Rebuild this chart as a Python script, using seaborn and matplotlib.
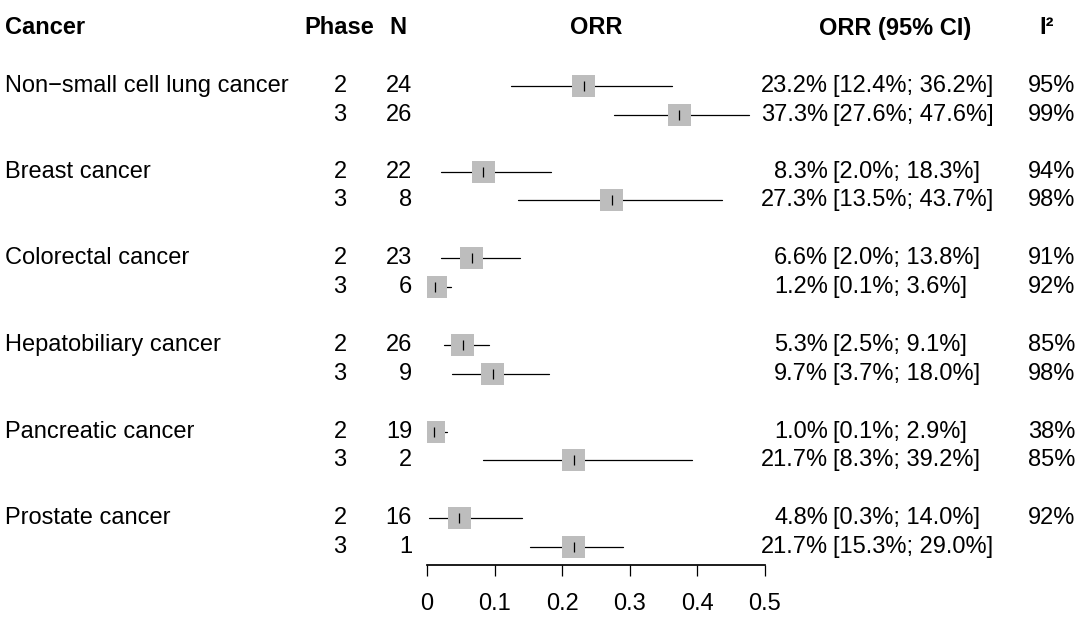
import numpy as np
import pandas as pd
import matplotlib.pyplot as plt
import matplotlib.transforms as mtransforms
import seaborn as sns

cancers = ["Non\u2212small cell lung cancer", "Breast cancer", "Colorectal cancer",
           "Hepatobiliary cancer", "Pancreatic cancer", "Prostate cancer"]
phases = [2, 3] * 6
n_studies = [24, 26, 22, 8, 23, 6, 26, 9, 19, 2, 16, 1]
orr = [0.232, 0.373, 0.083, 0.273, 0.066, 0.012, 0.053, 0.097, 0.010, 0.217, 0.048, 0.217]
lower = [0.124, 0.276, 0.020, 0.135, 0.020, 0.001, 0.025, 0.037, 0.001, 0.083, 0.003, 0.153]
upper = [0.362, 0.476, 0.183, 0.437, 0.138, 0.036, 0.091, 0.180, 0.029, 0.392, 0.140, 0.290]
orr_txt = ["23.2%", "37.3%", "8.3%", "27.3%", "6.6%", "1.2%", "5.3%", "9.7%", "1.0%", "21.7%", "4.8%", "21.7%"]
ci_txt = ["[12.4%; 36.2%]", "[27.6%; 47.6%]", "[2.0%; 18.3%]", "[13.5%; 43.7%]",
          "[2.0%; 13.8%]", "[0.1%; 3.6%]", "[2.5%; 9.1%]", "[3.7%; 18.0%]",
          "[0.1%; 2.9%]", "[8.3%; 39.2%]", "[0.3%; 14.0%]", "[15.3%; 29.0%]"]
i2 = ["95%", "99%", "94%", "98%", "91%", "92%", "85%", "98%", "38%", "85%", "92%", ""]
ticks = [0, 0.1, 0.2, 0.3, 0.4, 0.5]

# pixel rows of each study line (figure is 620 px tall)
row_y = [86, 115, 172, 200, 258, 287, 345, 374, 432, 460, 518, 547]

sns.set_theme(style="white")
plt.rcParams["font.family"] = ["Liberation Sans", "DejaVu Sans"]
FS = 17

fig = plt.figure(figsize=(10.8, 6.2), dpi=100)
ax = fig.add_axes([427 / 1080, 0, (765 - 427) / 1080, 1])
ax.set_xlim(0, 0.5)
ax.set_ylim(620, 0)

df = pd.DataFrame({"orr": orr, "y": row_y})
for lo, hi, y in zip(lower, upper, row_y):
    ax.plot([lo, hi], [y, y], color="black", lw=0.9, zorder=1)
sns.scatterplot(data=df, x="orr", y="y", marker="s", s=270, color="#bdbdbd",
                edgecolor="none", ax=ax, zorder=2, legend=False)
ax.scatter(orr, row_y, marker="|", s=45, color="black", linewidths=0.9, zorder=3)

for side in ["top", "right", "left"]:
    ax.spines[side].set_visible(False)
ax.spines["bottom"].set_position(("data", 565))
ax.spines["bottom"].set_bounds(0, 0.5)
ax.spines["bottom"].set_color("black")
ax.set_xticks(ticks)
ax.set_xticklabels([f"{t:g}" for t in ticks], fontsize=FS, color="black")
ax.tick_params(axis="x", bottom=True, length=8, width=0.9, color="black", pad=12)
ax.set_yticks([])
ax.set_xlabel("")
ax.set_ylabel("")
ax.patch.set_alpha(0)

tr = mtransforms.blended_transform_factory(fig.transFigure, ax.transData)

def t(xpx, y, s, ha="left", bold=False):
    ax.text(xpx / 1080, y, s, transform=tr, ha=ha, va="center", fontsize=FS,
            color="black", fontweight="bold" if bold else "normal", clip_on=False)

hy = 28
t(5, hy, "Cancer", bold=True)
t(339, hy, "Phase", ha="center", bold=True)
t(398, hy, "N", ha="center", bold=True)
t(596, hy, "ORR", ha="center", bold=True)
t(895, hy, "ORR (95% CI)", ha="center", bold=True)
t(1047, hy, "I\u00b2", ha="center", bold=True)

for i, y in enumerate(row_y):
    if i % 2 == 0:
        t(5, y, cancers[i // 2])
    t(340, y, str(phases[i]), ha="center")
    t(412, y, str(n_studies[i]), ha="right")
    t(828, y, orr_txt[i], ha="right")
    t(833, y, ci_txt[i])
    t(1075, y, i2[i], ha="right")

fig.savefig("out.png", dpi=100, facecolor="white")
